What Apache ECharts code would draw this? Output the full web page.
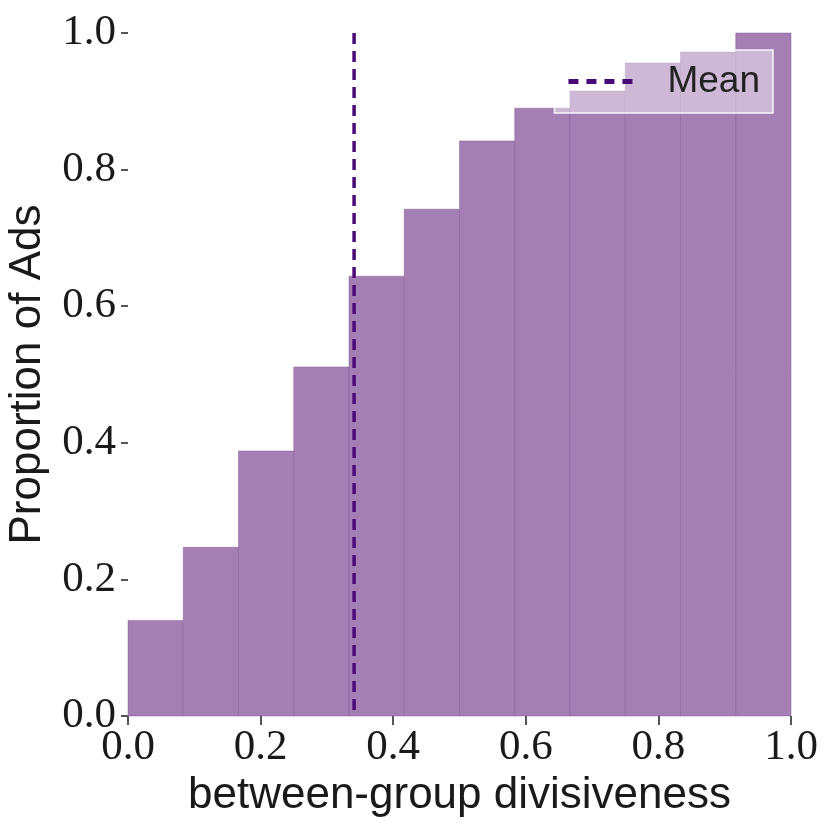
<!DOCTYPE html>
<html>
<head>
<meta charset="utf-8">
<script src="https://cdn.jsdelivr.net/npm/echarts@6/dist/echarts.min.js"></script>
<style>html,body{margin:0;padding:0;background:#fff}#c{width:830px;height:832px}</style>
</head>
<body>
<div id="c"></div>
<script>
const binEdges = [0, 1/12, 2/12, 3/12, 4/12, 5/12, 6/12, 7/12, 8/12, 9/12, 10/12, 11/12, 1];
const cumulativeProportion = [0.140, 0.247, 0.388, 0.511, 0.644, 0.742, 0.842, 0.890, 0.915, 0.956, 0.972, 1.0];
const meanValue = 0.341;
const xTicks = [0, 0.2, 0.4, 0.6, 0.8, 1.0];
const yTicks = [0, 0.2, 0.4, 0.6, 0.8, 1.0];

const barData = cumulativeProportion.map((v, i) => [binEdges[i], binEdges[i + 1], v]);

const chart = echarts.init(document.getElementById('c'));
const serif = '"Liberation Serif", "DejaVu Serif", serif';
const sans = '"Liberation Sans", Arial, sans-serif';
chart.setOption({
  animation: false,
  backgroundColor: '#fff',
  grid: { left: 128, right: 39, top: 33, bottom: 116, containLabel: false, outerBoundsMode: 'none' },
  legend: {
    data: [{ name: 'Mean', icon: 'path://M0,0h10v5h-10z M18,0h10v5h-10z M36,0h10v5h-10z M54,0h10v5h-10z' }],
    right: 57, top: 50,
    padding: [13, 13, 13, 14],
    itemWidth: 64, itemHeight: 5, itemGap: 10,
    backgroundColor: 'rgba(255,255,255,0.45)',
    borderColor: 'rgba(255,255,255,0.9)', borderWidth: 1.5, borderRadius: 0,
    itemStyle: { color: '#4a0a78' },
    lineStyle: { width: 0 },
    textStyle: { fontFamily: sans, fontSize: 37, color: '#222', padding: [0, 0, 0, 30] }
  },
  xAxis: {
    type: 'value', min: 0, max: 1, interval: 0.2,
    name: 'between-group divisiveness', nameLocation: 'middle', nameGap: 57,
    nameTextStyle: { fontFamily: sans, fontSize: 44, color: '#1a1a1a' },
    axisLine: { show: false },
    axisTick: { show: true, length: 9, lineStyle: { color: '#555', width: 2 } },
    splitLine: { show: false },
    axisLabel: { fontFamily: serif, fontSize: 43, color: '#1a1a1a', margin: 10,
      formatter: v => xTicks.includes(+v.toFixed(1)) ? v.toFixed(1) : '' }
  },
  yAxis: {
    type: 'value', min: 0, max: 1, interval: 0.2,
    name: 'Proportion of Ads', nameLocation: 'middle', nameGap: 78,
    nameTextStyle: { fontFamily: sans, fontSize: 44, color: '#1a1a1a' },
    axisLine: { show: false },
    axisTick: { show: true, length: 7, lineStyle: { color: '#555', width: 2 } },
    splitLine: { show: false },
    axisLabel: { fontFamily: serif, fontSize: 43, color: '#1a1a1a', margin: 12,
      formatter: v => yTicks.includes(+v.toFixed(1)) ? v.toFixed(1) : '' }
  },
  series: [
    {
      type: 'custom',
      name: 'hist',
      data: barData,
      encode: { x: [0, 1], y: 2 },
      renderItem: (params, api) => {
        const p0 = api.coord([api.value(0), api.value(2)]);
        const p1 = api.coord([api.value(1), 0]);
        return {
          type: 'rect',
          shape: { x: p0[0], y: p0[1], width: p1[0] - p0[0], height: p1[1] - p0[1] },
          style: { fill: '#a47fb3', stroke: 'rgba(130,85,150,0.45)', lineWidth: 1 }
        };
      },
      z: 2
    },
    {
      type: 'line',
      name: 'Mean',
      data: [[meanValue, 1], [meanValue, 0]],
      symbol: 'none',
      lineStyle: { color: '#4a0a78', width: 3.5, type: [11, 7] },
      itemStyle: { color: '#4a0a78' },
      z: 3
    }
  ]
});
</script>
</body>
</html>
